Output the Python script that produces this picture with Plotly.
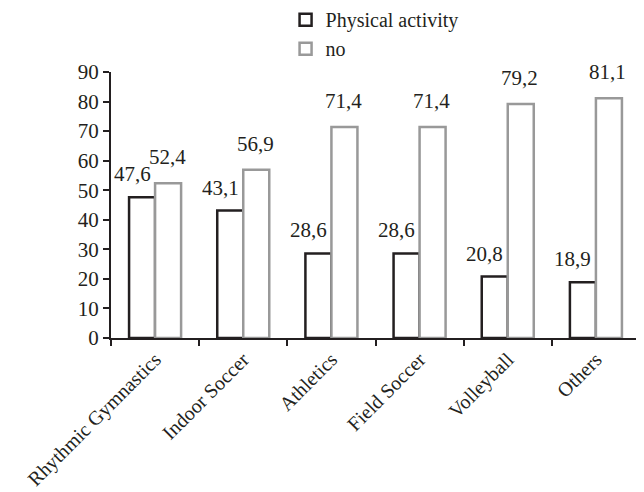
import plotly.graph_objects as go

categories = ["Rhythmic Gymnastics", "Indoor Soccer", "Athletics", "Field Soccer", "Volleyball", "Others"]
physical_activity = [47.6, 43.1, 28.6, 28.6, 20.8, 18.9]
no_activity = [52.4, 56.9, 71.4, 71.4, 79.2, 81.1]
y_ticks = [0, 10, 20, 30, 40, 50, 60, 70, 80, 90]

def fmt(v):
    return f"{v:.1f}".replace(".", ",")

FONT = "Liberation Serif"
BLACK = "#231f20"
GRAY = "#999999"

fig = go.Figure()
fig.add_trace(go.Bar(
    x=categories, y=physical_activity, name="Physical activity",
    marker=dict(color="white", line=dict(color=BLACK, width=2.5)),
))
fig.add_trace(go.Bar(
    x=categories, y=no_activity, name="no",
    marker=dict(color="white", line=dict(color=GRAY, width=2.5)),
))

annotations = []
for c, v in zip(categories, physical_activity):
    annotations.append(dict(x=c, y=v, text=fmt(v), showarrow=False, xanchor="center",
                            yanchor="bottom", xshift=-23, yshift=9,
                            font=dict(family=FONT, size=21, color=BLACK)))
for c, v in zip(categories, no_activity):
    annotations.append(dict(x=c, y=v, text=fmt(v), showarrow=False, xanchor="center",
                            yanchor="bottom", xshift=12, yshift=12,
                            font=dict(family=FONT, size=21, color=BLACK)))

fig.update_layout(
    width=644, height=492,
    margin=dict(l=103, r=12, t=64, b=162, autoexpand=False),
    paper_bgcolor="white", plot_bgcolor="white",
    barmode="group", bargap=0.41, bargroupgap=0,
    font=dict(family=FONT, size=20, color=BLACK),
    showlegend=True,
    legend=dict(x=0.33, y=1.27, xanchor="left", yanchor="top",
                font=dict(family=FONT, size=20, color=BLACK),
                bgcolor="rgba(0,0,0,0)", tracegroupgap=0, itemwidth=30),
    annotations=annotations,
    xaxis=dict(showline=True, linecolor=BLACK, linewidth=2, ticks="outside",
               tickson="boundaries", ticklen=6, tickwidth=2, tickcolor=BLACK,
               tickangle=-45, showgrid=False, zeroline=False, automargin=False,
               tickfont=dict(family=FONT, size=20, color=BLACK)),
    yaxis=dict(range=[0, 90], tickvals=y_ticks, showline=True, linecolor=BLACK,
               linewidth=2, ticks="outside", ticklen=6, tickwidth=2, tickcolor=BLACK,
               showgrid=False, zeroline=False, automargin=False,
               tickfont=dict(family=FONT, size=21, color=BLACK)),
)

fig.write_html("out.html")
